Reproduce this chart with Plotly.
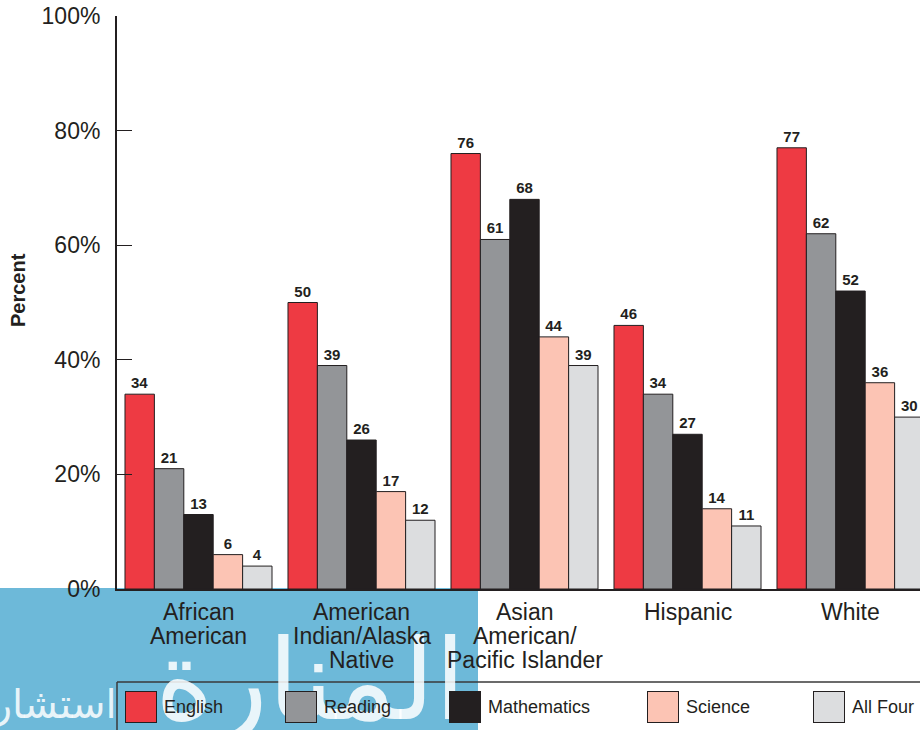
import plotly.graph_objects as go

# Percent of students meeting benchmarks, by race/ethnicity
groups = ["African American", "American Indian/Alaska Native",
          "Asian American/Pacific Islander", "Hispanic", "White"]
group_label_lines = [["African", "American"],
                     ["American", "Indian/Alaska", "Native"],
                     ["Asian", "American/", "Pacific Islander"],
                     ["Hispanic"],
                     ["White"]]

subjects = ["English", "Reading", "Mathematics", "Science", "All Four"]
english = [34, 50, 76, 46, 77]
reading = [21, 39, 61, 34, 62]
mathematics = [13, 26, 68, 27, 52]
science = [6, 17, 44, 14, 36]
all_four = [4, 12, 39, 11, 30]
series_values = [english, reading, mathematics, science, all_four]

y_ticks = [0, 20, 40, 60, 80, 100]
y_tick_labels = ["0%", "20%", "40%", "60%", "80%", "100%"]

# styling
colors = ["#ee3a43", "#939598", "#231f20", "#fcc4b4", "#dcdddf"]
ink = "#231f20"
font = "Liberation Sans"

W, H = 920, 730
PL, PR, PT, PB = 117, 920, 16, 589


def px(x):
    return (x - PL) / (PR - PL)


def py(y):
    return (PB - y) / (PB - PT)


fig = go.Figure()
for name, vals, col in zip(subjects, series_values, colors):
    fig.add_trace(go.Bar(
        x=groups, y=vals, name=name,
        marker=dict(color=col, line=dict(color=ink, width=1)),
        text=[f"<b>{v}</b>" for v in vals],
        textposition="outside", cliponaxis=False,
        textfont=dict(family=font, size=15, color=ink),
        showlegend=False,
    ))

annotations = []

# watermark lettering on the blue band
annotations.append(dict(
    xref="paper", yref="paper", x=px(468), y=py(748), xanchor="right", yanchor="bottom",
    text="المنارة", showarrow=False,
    font=dict(family="DejaVu Sans", size=112, color="rgba(255,255,255,0.85)"),
))
annotations.append(dict(
    xref="paper", yref="paper", x=px(119), y=py(730), xanchor="right", yanchor="bottom",
    text="استشارات", showarrow=False,
    font=dict(family="DejaVu Sans", size=40, color="rgba(255,255,255,0.85)"),
))

# category labels, one annotation per line
for g, lines in zip(groups, group_label_lines):
    for i, line in enumerate(lines):
        annotations.append(dict(
            xref="x", yref="paper", x=g, y=py(612 + 24 * i),
            xanchor="center", yanchor="middle", text=line, showarrow=False,
            font=dict(family=font, size=23, color=ink),
        ))

# y-axis title
annotations.append(dict(
    xref="paper", yref="paper", x=px(18), y=py(290), xanchor="center", yanchor="middle",
    text="<b>Percent</b>", textangle=-90, showarrow=False,
    font=dict(family=font, size=20, color=ink),
))

# legend swatches and labels
legend_x = [125, 285, 449, 647, 813]
legend_yc = 707
for name, col, lx in zip(subjects, colors, legend_x):
    annotations.append(dict(
        xref="paper", yref="paper", x=px(lx), y=py(legend_yc), xanchor="left", yanchor="middle",
        text="&nbsp;", showarrow=False, width=30, height=30, borderpad=0,
        bgcolor=col, bordercolor=ink, borderwidth=1,
    ))
    annotations.append(dict(
        xref="paper", yref="paper", x=px(lx + 37), y=py(legend_yc), xanchor="left", yanchor="middle",
        text=name, showarrow=False,
        font=dict(family=font, size=18, color=ink),
    ))

shapes = [
    # blue band behind the lower-left labels
    dict(type="rect", xref="paper", yref="paper", x0=px(0), x1=px(478), y0=py(730), y1=py(588),
         fillcolor="#6db9d9", line=dict(width=0), layer="below"),
    # legend frame
    dict(type="line", xref="paper", yref="paper", x0=px(117), x1=px(920), y0=py(682), y1=py(682),
         line=dict(color="#3a3a3a", width=1.5)),
    dict(type="line", xref="paper", yref="paper", x0=px(117), x1=px(117), y0=py(682), y1=py(732),
         line=dict(color="#3a3a3a", width=1.5)),
]

fig.update_layout(
    width=W, height=H,
    margin=dict(l=PL, r=W - PR, t=PT, b=H - PB),
    paper_bgcolor="white", plot_bgcolor="rgba(0,0,0,0)",
    barmode="group", bargap=0.098, bargroupgap=0,
    font=dict(family=font, color=ink),
    annotations=annotations, shapes=shapes,
    xaxis=dict(type="category", range=[-0.5, -0.5 + (PR - PL) / 163], showticklabels=False,
               showline=True, linecolor=ink, linewidth=2, ticks="", showgrid=False, zeroline=False),
    yaxis=dict(range=[0, 100], tickvals=y_ticks, ticktext=y_tick_labels, showline=True,
               linecolor=ink, linewidth=2, ticks="inside", ticklen=15, tickwidth=1, tickcolor=ink,
               tickfont=dict(family=font, size=23, color=ink), ticklabelstandoff=10,
               showgrid=False, zeroline=False),
)

fig.write_html("out.html")
